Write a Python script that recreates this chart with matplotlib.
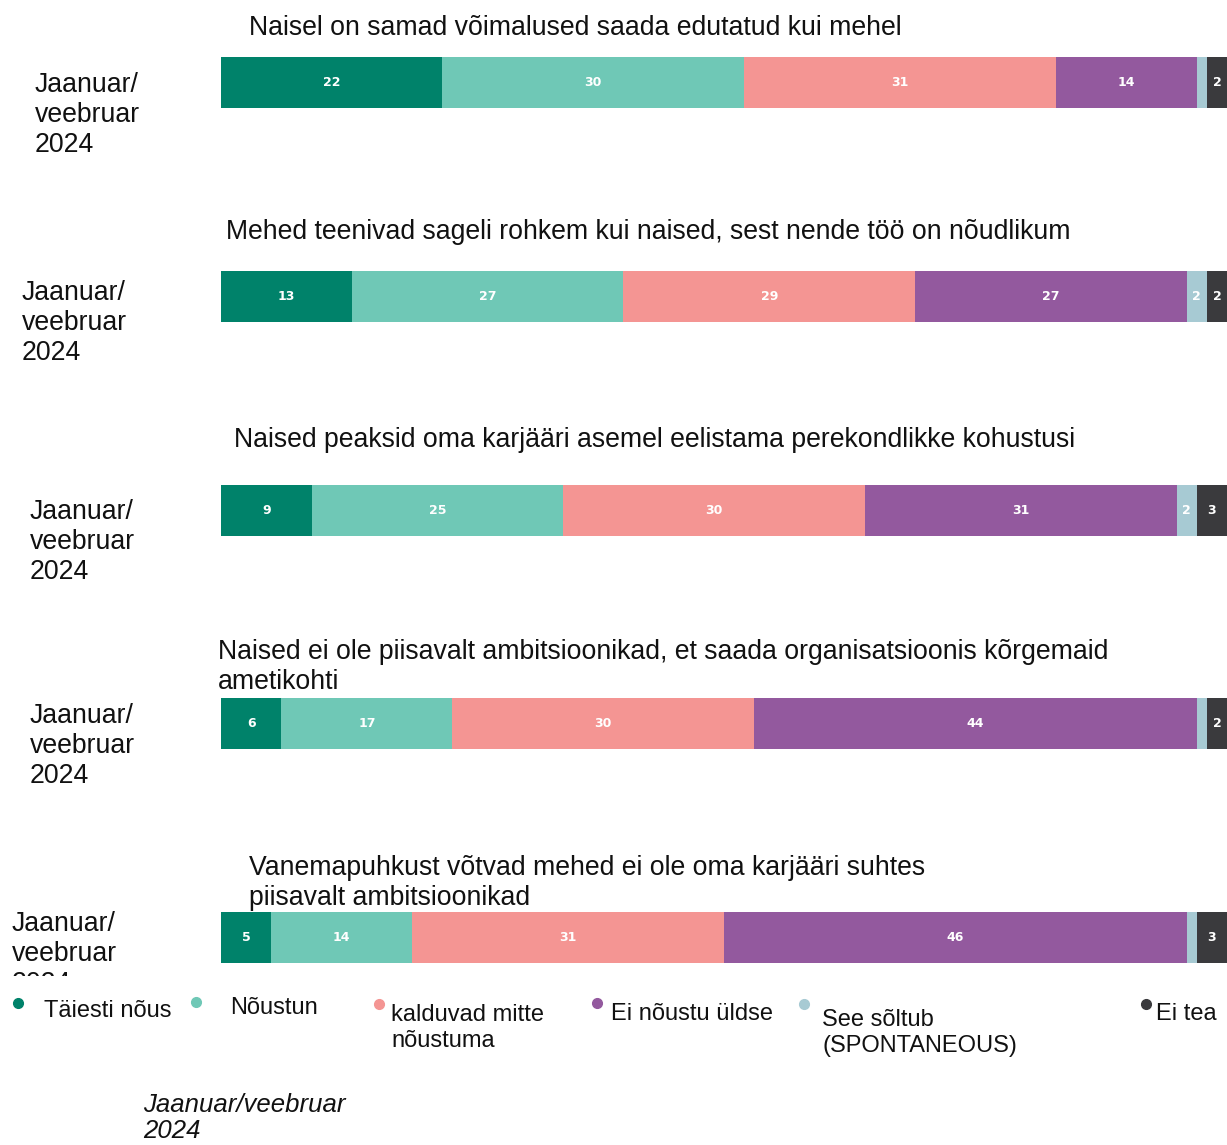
import matplotlib
matplotlib.use('Agg')
import matplotlib.pyplot as plt
from matplotlib.patches import Rectangle

plt.rcParams['font.family'] = ['Liberation Sans', 'DejaVu Sans']

# Data
statements = [
    "Naisel on samad võimalused saada edutatud kui mehel",
    "Mehed teenivad sageli rohkem kui naised, sest nende töö on nõudlikum",
    "Naised peaksid oma karjääri asemel eelistama perekondlikke kohustusi",
    "Naised ei ole piisavalt ambitsioonikad, et saada organisatsioonis kõrgemaid\nametikohti",
    "Vanemapuhkust võtvad mehed ei ole oma karjääri suhtes\npiisavalt ambitsioonikad",
]
period = "Jaanuar/\nveebruar\n2024"
responses = ["Täiesti nõus", "Nõustun", "kalduvad mitte\nnõustuma", "Ei nõustu üldse",
             "See sõltub\n(SPONTANEOUS)", "Ei tea"]

taiesti_nous = [22, 13, 9, 6, 5]
noustun = [30, 27, 25, 17, 14]
kalduvad_mitte = [31, 29, 30, 30, 31]
ei_noustu = [14, 27, 31, 44, 46]
see_soltub = [1, 2, 2, 1, 1]
ei_tea = [2, 2, 3, 2, 3]
series = [taiesti_nous, noustun, kalduvad_mitte, ei_noustu, see_soltub, ei_tea]

colors = ['#00826a', '#6fc8b6', '#f49593', '#93599e', '#a7cad3', '#3a3a3d']

W, H = 1227, 1145
fig = plt.figure(figsize=(W / 100, H / 100), dpi=100)

def fx(px):
    return px / W

def fy(py):
    return 1 - py / H

# bar layout in pixels
bar_top = [57, 271, 485, 698, 912]
bar_h = 51
bar_x0, bar_x1 = 221, 1227
title_pos = [(249, 28), (226, 232), (234, 440), (218, 667), (249, 883)]
label_pos = [(35, 115), (22, 323), (30, 542), (30, 746), (12, 954)]

for i in range(len(statements)):
    ax = fig.add_axes([fx(bar_x0), fy(bar_top[i] + bar_h), fx(bar_x1 - bar_x0), bar_h / H])
    left = 0
    for s, col in zip(series, colors):
        v = s[i]
        ax.barh(0, v, left=left, height=1, color=col, edgecolor='none')
        if v >= 2:
            ax.text(left + v / 2, 0, str(v), ha='center', va='center', color='white',
                    fontsize=9, fontweight='bold', family='DejaVu Sans')
        left += v
    ax.set_xlim(0, 100)
    ax.set_ylim(-0.5, 0.5)
    ax.axis('off')

# overlay for texts and legend
ov = fig.add_axes([0, 0, 1, 1], zorder=5)
ov.set_xlim(0, W)
ov.set_ylim(H, 0)
ov.axis('off')

for i, t in enumerate(statements):
    tx, ty = title_pos[i]
    ov.text(tx, ty, t, ha='left', va='center', fontsize=19.2, color='#111111',
            linespacing=1.18)
    lx, ly = label_pos[i]
    ov.text(lx, ly, period, ha='left', va='center', fontsize=19.2, color='#111111',
            linespacing=1.18, zorder=1)

# last y-label is cut off by the legend area
ov.add_patch(Rectangle((0, 976), 215, 60, facecolor='white', edgecolor='none', zorder=2))

# legend
dot_pos = [(18, 1003), (196, 1002), (379, 1004), (597, 1003), (804, 1004), (1146, 1004)]
text_pos = [(44, 1011), (230, 1008), (391, 1028), (611, 1014), (822, 1033), (1156, 1014)]
for (dx, dy), (tx, ty), lab, col in zip(dot_pos, text_pos, responses, colors):
    ov.plot(dx, dy, 'o', color=col, markersize=7, zorder=3)
    ov.text(tx, ty, lab, ha='left', va='center', fontsize=17, color='#111111',
            linespacing=1.2, zorder=3)

ov.text(143, 1118, "Jaanuar/veebruar\n2024", ha='left', va='center', fontsize=18.5,
        style='italic', color='#111111', linespacing=1.15)

fig.savefig('out.png', dpi=100)
